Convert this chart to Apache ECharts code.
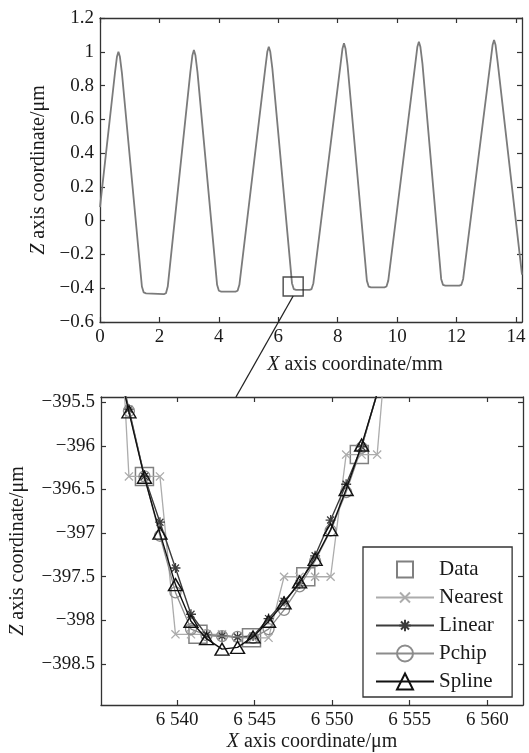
<!DOCTYPE html>
<html>
<head>
<meta charset="utf-8">
<script src="https://cdn.jsdelivr.net/npm/echarts@6/dist/echarts.min.js"></script>
<style>
  html, body { margin: 0; background: #fff; }
  #main { width: 529px; height: 753px; }
</style>
</head>
<body>
<div id="main"></div>
<script>
// 初始化实例
var chart = echarts.init(document.getElementById('main'), null, { renderer: 'canvas' });

// ---------- 上图：轮廓 ----------
const profX = [0, 0.50, 0.57, 0.62, 0.67, 0.74, 1.41, 1.47, 1.55, 2.15, 2.22, 2.28, 3.04, 3.11, 3.16, 3.21, 3.28,
    3.94, 4.00, 4.08, 4.56, 4.63, 4.69, 5.56, 5.63, 5.68, 5.73, 5.80, 6.46, 6.52, 6.60, 7.05, 7.12, 7.18,
    8.09, 8.16, 8.21, 8.26, 8.33, 8.98, 9.04, 9.12, 9.57, 9.64, 9.70, 10.61, 10.68, 10.73, 10.78, 10.85,
    11.48, 11.54, 11.62, 12.09, 12.16, 12.22, 13.14, 13.21, 13.26, 13.31, 13.38, 14.2];
const profZ = [0.08, 0.87, 0.97, 1.00, 0.97, 0.87, -0.39, -0.425, -0.43, -0.435, -0.43, -0.39, 0.88, 0.98, 1.01, 0.98, 0.88,
    -0.38, -0.415, -0.42, -0.42, -0.415, -0.38, 0.90, 1.00, 1.03, 1.00, 0.90, -0.37, -0.405, -0.41, -0.41, -0.405, -0.37,
    0.92, 1.02, 1.05, 1.02, 0.92, -0.355, -0.39, -0.395, -0.395, -0.39, -0.355, 0.93, 1.03, 1.06, 1.03, 0.93,
    -0.345, -0.38, -0.385, -0.385, -0.38, -0.345, 0.94, 1.04, 1.07, 1.04, 0.94, -0.32];
const topXTicks = [0, 2, 4, 6, 8, 10, 12, 14];
const topYTicks = [-0.6, -0.4, -0.2, 0, 0.2, 0.4, 0.6, 0.8, 1, 1.2];
// 放大框位置
const boxX = 6.5, boxZ = -0.39;
const boxSize = [20, 19];

// ---------- 下图：插值对比 ----------
const dataX = [6537.9, 6541.35, 6544.8, 6548.3, 6551.75];
const dataZ = [-396.35, -398.16, -398.2, -397.5, -396.1];
const gridX = [6535.9, 6536.9, 6537.9, 6538.9, 6539.9, 6540.9, 6541.9, 6542.9, 6543.9, 6544.9,
    6545.9, 6546.9, 6547.9, 6548.9, 6549.9, 6550.9, 6551.9, 6552.9, 6553.9];
const nearestZ = [-393.0, -396.35, -396.35, -396.35, -398.16, -398.16, -398.16, -398.16, -398.2, -398.2,
    -398.2, -397.5, -397.5, -397.5, -397.5, -396.1, -396.1, -396.1, -394.0];
const linearZ = [-394.81, -395.58, -396.35, -396.875, -397.40, -397.93, -398.17, -398.18, -398.19, -398.18,
    -397.98, -397.78, -397.58, -397.26, -396.85, -396.44, -396.01, -395.40, -394.79];
const pchipZ = [-394.85, -395.60, -396.35, -397.03, -397.68, -398.10, -398.17, -398.18, -398.19, -398.2,
    -398.10, -397.88, -397.61, -397.32, -396.97, -396.53, -396.02, -395.38, -394.8];
const splineZ = [-394.85, -395.61, -396.36, -397.0, -397.59, -398.01, -398.21, -398.33, -398.31, -398.19,
    -398.01, -397.80, -397.56, -397.30, -396.96, -396.5, -395.99, -395.40, -394.85];
const botXTicks = [6540, 6545, 6550, 6555, 6560];
const botYTicks = [-398.5, -398, -397.5, -397, -396.5, -396, -395.5];
const botXRange = [6535.1, 6562.3];
const botYRange = [-398.97, -395.44];
// 连接线落点（下图上边）
const linkX = 6543.8;

const FONT = 'Liberation Serif';
const TXT = '#1a1a1a';
const FRAME = '#333';

const zip = (xs, ys) => xs.map((x, i) => [x, ys[i]]);
const minus = (s) => String(s).replace('-', '\u2212');

// 坐标轴：主轴带刻度标签，镜像轴只画框和内刻度
function axis(grid, pos, range, ticks, fmt, extra) {
    var a = {
        type: 'value',
        gridIndex: grid,
        position: pos,
        min: range[0],
        max: range[1],
        axisLine: { show: true, onZero: false, lineStyle: { color: FRAME, width: 1.3 } },
        axisTick: { show: true, inside: true, length: 5, customValues: ticks, lineStyle: { color: FRAME, width: 1.2 } },
        axisLabel: fmt ? {
            show: true, customValues: ticks, formatter: fmt,
            fontFamily: FONT, fontSize: 19, color: TXT, margin: 6
        } : { show: false },
        splitLine: { show: false }
    };
    return Object.assign(a, extra || {});
}

const fmtNum = (v) => minus(+v.toFixed(1));
const fmtBotX = (v) => { var s = String(Math.round(v)); return s.slice(0, 1) + ' ' + s.slice(1); };

const nameStyle = {
    fontFamily: FONT, fontSize: 20, color: TXT,
    rich: { i: { fontFamily: FONT, fontSize: 20, fontStyle: 'italic', color: TXT } }
};

// MATLAB 风格标记（外加空白边距，让图例里的符号小一些）
const xMark = 'path://M-3,-3M13,13M0,0L10,10M10,0L0,10';
const starMark = 'path://M-2,-2M12,12M5,0L5,10M0,5L10,5M1.5,1.5L8.5,8.5M8.5,1.5L1.5,8.5';

var option = {
    animation: false,
    backgroundColor: '#fff',
    grid: [
        { left: 100, top: 18, width: 422, height: 304 },
        { left: 98, top: 397, width: 425, height: 308 }
    ],
    xAxis: [
        axis(0, 'bottom', [0, 14.2], topXTicks, fmtNum, {
            name: '{i|X} axis coordinate/mm', nameLocation: 'middle', nameGap: 33,
            nameTextStyle: Object.assign({ padding: [0, 0, 0, 88] }, nameStyle)
        }),
        axis(0, 'top', [0, 14.2], topXTicks, null),
        axis(1, 'bottom', botXRange, botXTicks, fmtBotX, {
            name: '{i|X} axis coordinate/\u03bcm', nameLocation: 'middle', nameGap: 27,
            nameTextStyle: nameStyle
        }),
        axis(1, 'top', botXRange, botXTicks, null)
    ],
    yAxis: [
        axis(0, 'left', [-0.6, 1.2], topYTicks, fmtNum, {
            name: '{i|Z} axis coordinate/\u03bcm', nameLocation: 'middle', nameGap: 45, nameRotate: 90,
            nameTextStyle: nameStyle
        }),
        axis(0, 'right', [-0.6, 1.2], topYTicks, null),
        axis(1, 'left', botYRange, botYTicks, fmtNum, {
            name: '{i|Z} axis coordinate/\u03bcm', nameLocation: 'middle', nameGap: 73, nameRotate: 90,
            nameTextStyle: nameStyle
        }),
        axis(1, 'right', botYRange, botYTicks, null)
    ],
    legend: {
        data: ['Data', 'Nearest', 'Linear', 'Pchip', 'Spline'],
        orient: 'vertical',
        left: 363,
        top: 547,
        itemWidth: 58,
        itemHeight: 20,
        itemGap: 7,
        padding: [12, 9, 5, 12],
        borderColor: FRAME,
        borderWidth: 1.3,
        backgroundColor: '#fff',
        selectedMode: false,
        textStyle: { fontFamily: FONT, fontSize: 21, color: TXT },
        z: 20
    },
    series: [
        {
            name: 'profile',
            type: 'line',
            xAxisIndex: 0,
            yAxisIndex: 0,
            data: zip(profX, profZ),
            showSymbol: false,
            lineStyle: { color: '#7b7b7b', width: 1.8 },
            silent: true
        },
        {
            name: 'box',
            type: 'scatter',
            xAxisIndex: 0,
            yAxisIndex: 0,
            data: [[boxX, boxZ]],
            symbol: 'rect',
            symbolSize: boxSize,
            itemStyle: { color: 'rgba(0,0,0,0)', borderColor: '#222', borderWidth: 1.4 },
            silent: true,
            z: 5
        },
        {
            name: 'Data',
            type: 'line',
            xAxisIndex: 2,
            yAxisIndex: 2,
            data: zip(dataX, dataZ),
            symbol: 'rect',
            symbolSize: 18,
            lineStyle: { opacity: 0, width: 0 },
            itemStyle: { color: 'rgba(0,0,0,0)', borderColor: '#808080', borderWidth: 1.5 },
            silent: true,
            z: 2
        },
        {
            name: 'Nearest',
            type: 'line',
            xAxisIndex: 2,
            yAxisIndex: 2,
            data: zip(gridX, nearestZ),
            symbol: xMark,
            symbolSize: 13,
            lineStyle: { color: '#acacac', width: 1.3 },
            itemStyle: { color: 'rgba(0,0,0,0)', borderColor: '#acacac', borderWidth: 1.3 },
            silent: true,
            z: 3
        },
        {
            name: 'Linear',
            type: 'line',
            xAxisIndex: 2,
            yAxisIndex: 2,
            data: zip(gridX, linearZ),
            symbol: starMark,
            symbolSize: 14,
            lineStyle: { color: '#3c3c3c', width: 1.4 },
            itemStyle: { color: 'rgba(0,0,0,0)', borderColor: '#3c3c3c', borderWidth: 1.3 },
            silent: true,
            z: 4
        },
        {
            name: 'Pchip',
            type: 'line',
            xAxisIndex: 2,
            yAxisIndex: 2,
            data: zip(gridX, pchipZ),
            symbol: 'circle',
            symbolSize: 11,
            lineStyle: { color: '#8c8c8c', width: 1.3 },
            itemStyle: { color: 'rgba(0,0,0,0)', borderColor: '#8c8c8c', borderWidth: 1.3 },
            silent: true,
            z: 5
        },
        {
            name: 'Spline',
            type: 'line',
            xAxisIndex: 2,
            yAxisIndex: 2,
            data: zip(gridX, splineZ),
            symbol: 'triangle',
            symbolSize: [14, 12],
            lineStyle: { color: '#111', width: 1.4 },
            itemStyle: { color: 'rgba(0,0,0,0)', borderColor: '#111', borderWidth: 1.4 },
            silent: true,
            z: 6
        }
    ]
};
chart.setOption(option);

// 放大框与下图之间的连线
var p0 = chart.convertToPixel({ xAxisIndex: 0, yAxisIndex: 0 }, [boxX, boxZ]);
var p1 = chart.convertToPixel({ xAxisIndex: 2, yAxisIndex: 2 }, [linkX, botYRange[1]]);
chart.setOption({
    graphic: [{
        type: 'line',
        shape: { x1: p0[0], y1: p0[1] + boxSize[1] / 2, x2: p1[0], y2: p1[1] },
        style: { stroke: '#222', lineWidth: 1.3 },
        z: 10
    }]
});

window.addEventListener('resize', function () {
    chart.resize();
});
</script>
</body>
</html>
